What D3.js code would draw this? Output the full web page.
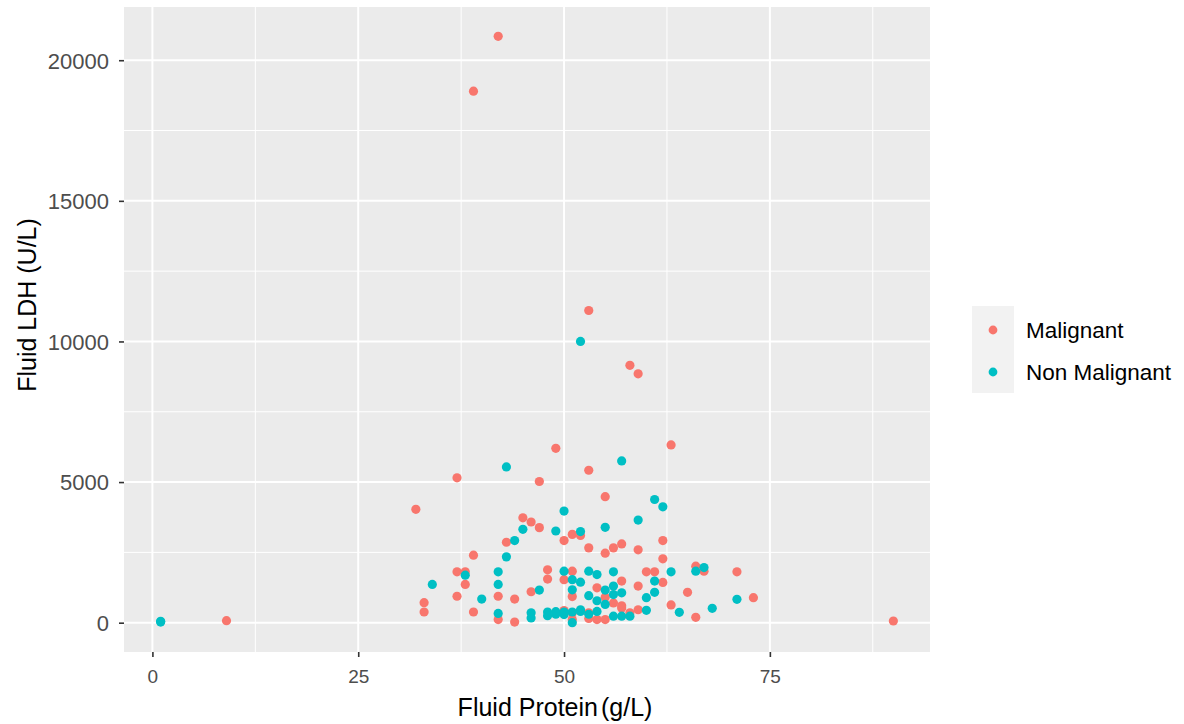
<!DOCTYPE html>
<html>
<head>
<meta charset="utf-8">
<script src="https://cdn.jsdelivr.net/npm/d3@7"></script>
<style>
  body { margin: 0; background: #fff; }
  text { font-family: "Liberation Sans", Arial, sans-serif; }
</style>
</head>
<body>
<script>
// Series values, [protein g/L, LDH U/L]
const malignant = [
  [42, 20850], [39, 18900], [53, 11100], [58, 9150], [59, 8850], [63, 6320], [49, 6200],
  [53, 5420], [37, 5150], [47, 5020], [55, 4480], [32, 4030], [45, 3730], [46, 3580],
  [47, 3380], [51, 3140], [52, 3100], [50, 2920], [43, 2860], [53, 2660], [56, 2660],
  [57, 2800], [55, 2470], [59, 2590], [62, 2920], [62, 2270], [39, 2400], [37, 1810],
  [38, 1810], [48, 1880], [51, 1830], [60, 1810], [61, 1810], [66, 2010], [67, 1830],
  [71, 1810], [38, 1360], [48, 1550], [50, 1530], [57, 1480], [62, 1430], [59, 1300],
  [54, 1240], [46, 1100], [65, 1080], [37, 940], [42, 940], [44, 840], [51, 930],
  [55, 900], [73, 890], [33, 710], [56, 700], [63, 630], [57, 520], [59, 460], [33, 380],
  [39, 380], [53, 350], [58, 350], [51, 350], [50, 430], [42, 110], [51, 110], [53, 150],
  [54, 110], [55, 110], [66, 190], [44, 20], [9, 70], [90, 60], [57, 600]
];
const nonMalignant = [
  [52, 10000], [57, 5750], [43, 5540], [61, 4380], [62, 4120], [50, 3970], [59, 3650],
  [45, 3320], [49, 3260], [52, 3240], [55, 3390], [44, 2920], [43, 2340], [38, 1690],
  [42, 1810], [50, 1830], [53, 1830], [54, 1710], [56, 1810], [63, 1810], [66, 1830],
  [67, 1960], [34, 1360], [42, 1360], [51, 1530], [52, 1440], [56, 1300], [61, 1480],
  [47, 1160], [51, 1170], [55, 1160], [57, 1060], [61, 1080], [40, 840], [60, 890],
  [71, 830], [53, 960], [54, 780], [56, 1000], [55, 650], [68, 510], [60, 440], [64, 370],
  [52, 460], [54, 400], [42, 330], [46, 350], [46, 170], [48, 380], [49, 390], [50, 380],
  [51, 380], [52, 400], [49, 300], [48, 250], [50, 290], [51, 0], [56, 230], [57, 230],
  [58, 230], [53, 300], [1, 50], [1, 20]
];
const groups = ["Malignant", "Non Malignant"];
const colors = ["#F8766D", "#00BFC4"];
const xTicks = [0, 25, 50, 75];
const yTicks = [0, 5000, 10000, 15000, 20000];

const width = 1184, height = 724;
const panel = {left: 124, right: 930, top: 7, bottom: 652};

const svg = d3.select("body").append("svg")
    .attr("width", width)
    .attr("height", height);

// ggplot style 5% expansion of the data range
const all = malignant.concat(nonMalignant);
function expand(ext) {
    const pad = (ext[1] - ext[0]) * 0.05;
    return [ext[0] - pad, ext[1] + pad];
}
const x = d3.scaleLinear()
    .domain(expand(d3.extent(all, d => d[0])))
    .range([panel.left, panel.right]);
const y = d3.scaleLinear()
    .domain(expand(d3.extent(all, d => d[1])))
    .range([panel.bottom, panel.top]);

// --- Panel background and grid ---
svg.append("rect")
    .attr("x", panel.left).attr("y", panel.top)
    .attr("width", panel.right - panel.left)
    .attr("height", panel.bottom - panel.top)
    .attr("fill", "#EBEBEB");

const xMinor = xTicks.map(t => t + 12.5).filter(t => t < x.domain()[1]);
const yMinor = yTicks.map(t => t + 2500).filter(t => t < y.domain()[1]);

const grid = svg.append("g").attr("stroke", "#fff");
grid.selectAll(".xminor").data(xMinor).join("line")
    .attr("x1", d => x(d)).attr("x2", d => x(d))
    .attr("y1", panel.top).attr("y2", panel.bottom)
    .attr("stroke-width", 1);
grid.selectAll(".yminor").data(yMinor).join("line")
    .attr("y1", d => y(d)).attr("y2", d => y(d))
    .attr("x1", panel.left).attr("x2", panel.right)
    .attr("stroke-width", 1);
grid.selectAll(".xmajor").data(xTicks).join("line")
    .attr("x1", d => x(d)).attr("x2", d => x(d))
    .attr("y1", panel.top).attr("y2", panel.bottom)
    .attr("stroke-width", 2);
grid.selectAll(".ymajor").data(yTicks).join("line")
    .attr("y1", d => y(d)).attr("y2", d => y(d))
    .attr("x1", panel.left).attr("x2", panel.right)
    .attr("stroke-width", 2);

// --- Points ---
[malignant, nonMalignant].forEach((series, i) => {
    svg.append("g")
        .attr("fill", colors[i])
        .selectAll("circle")
        .data(series)
        .join("circle")
        .attr("cx", d => x(d[0]))
        .attr("cy", d => y(d[1]))
        .attr("r", 4.6);
});

// --- Axes ---
const xAxis = svg.append("g")
    .attr("transform", `translate(0,${panel.bottom})`)
    .call(d3.axisBottom(x).tickValues(xTicks).tickSize(5).tickPadding(13));
const yAxis = svg.append("g")
    .attr("transform", `translate(${panel.left},0)`)
    .call(d3.axisLeft(y).tickValues(yTicks).tickFormat(d3.format("d")).tickSize(5).tickPadding(10));

[xAxis, yAxis].forEach(a => {
    a.select(".domain").remove();
    a.selectAll(".tick line").attr("stroke", "#333").attr("stroke-width", 1.6);
    a.selectAll(".tick text").attr("fill", "#4D4D4D")
        .style("font-family", "'Liberation Sans', Arial, sans-serif");
});
xAxis.selectAll(".tick text").style("font-size", "19px");
yAxis.selectAll(".tick text").style("font-size", "22px").attr("dy", "0.36em");

// Axis titles
const xTitle = svg.append("text")
    .attr("x", 555).attr("y", 716)
    .attr("text-anchor", "middle")
    .style("font-size", "25px")
    .attr("fill", "#000")
    .text("Fluid Protein");
xTitle.append("tspan").attr("dx", 3).text("(g/L)");

svg.append("text")
    .attr("transform", "translate(36,305) rotate(-90)")
    .attr("text-anchor", "middle")
    .style("font-size", "25px")
    .attr("fill", "#000")
    .text("Fluid LDH (U/L)");

// --- Legend ---
const legend = svg.append("g");
legend.append("rect")
    .attr("x", 972).attr("y", 306)
    .attr("width", 42).attr("height", 87)
    .attr("fill", "#F2F2F2");
const item = legend.selectAll(".item")
    .data(groups)
    .join("g")
    .attr("transform", (d, i) => `translate(993,${330 + i * 42})`);
item.append("circle")
    .attr("r", 4.4)
    .attr("fill", (d, i) => colors[i]);
item.append("text")
    .attr("x", 33)
    .attr("dy", "0.36em")
    .style("font-size", "22.5px")
    .attr("fill", "#000")
    .text(d => d);
</script>
</body>
</html>
